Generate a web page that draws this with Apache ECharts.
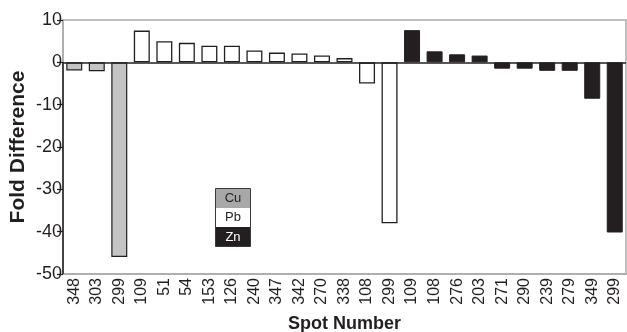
<!DOCTYPE html>
<html>
<head>
<meta charset="utf-8">
<script src="https://cdn.jsdelivr.net/npm/echarts@6/dist/echarts.min.js"></script>
<style>
html,body{margin:0;padding:0;background:#fff;}
#chart{width:627px;height:332px;}
</style>
</head>
<body>
<div id="chart"></div>
<script>
// Data
var cuSpots = ['348', '303', '299'];
var cuValues = [-1.9, -2.1, -46];
var pbSpots = ['109', '51', '54', '153', '126', '240', '347', '342', '270', '338', '108', '299'];
var pbValues = [7.5, 5.0, 4.6, 3.9, 3.9, 2.8, 2.3, 2.1, 1.6, 1.0, -5.0, -38];
var znSpots = ['109', '108', '276', '203', '271', '290', '239', '279', '349', '299'];
var znValues = [7.6, 2.6, 1.9, 1.6, -1.5, -1.5, -2.0, -2.0, -8.6, -40.2];
var yTicks = [10, 0, -10, -20, -30, -40, -50];
var legendNames = ['Cu', 'Pb', 'Zn'];

var categories = cuSpots.concat(pbSpots, znSpots);
function pad(before, vals, after) {
  var out = [];
  for (var i = 0; i < before; i++) out.push(null);
  out = out.concat(vals);
  for (var j = 0; j < after; j++) out.push(null);
  return out;
}
var n = categories.length;
var cuData = pad(0, cuValues, n - cuValues.length);
var pbData = pad(cuValues.length, pbValues, n - cuValues.length - pbValues.length);
var znData = pad(cuValues.length + pbValues.length, znValues, 0);

var ink = '#231f20';
var frame = '#aaaaaa';
var font = '"Liberation Sans", Arial, sans-serif';

var chart = echarts.init(document.getElementById('chart'), null, {renderer: 'canvas'});
var barBase = {
  type: 'bar',
  barWidth: 16,
  barGap: '-100%',
  animation: false
};
var legendGroup = {
  id: 'legendBox',
  type: 'group',
  left: 213,
  top: 186,
  children: [
    {type: 'rect', shape: {x: 0, y: 0, width: 35, height: 19.5}, style: {fill: '#a8a8a8'}},
    {type: 'rect', shape: {x: 0, y: 19.5, width: 35, height: 19}, style: {fill: '#ffffff'}},
    {type: 'rect', shape: {x: 0, y: 38.5, width: 35, height: 19.5}, style: {fill: ink}},
    {type: 'rect', shape: {x: 0, y: 0, width: 35, height: 58}, style: {fill: 'none', stroke: '#3a3a3a', lineWidth: 1}},
    {type: 'text', x: 17.5, y: 10, style: {text: legendNames[0], font: '13px ' + font, fill: ink, align: 'center', verticalAlign: 'middle'}},
    {type: 'text', x: 17.5, y: 29, style: {text: legendNames[1], font: '13px ' + font, fill: ink, align: 'center', verticalAlign: 'middle'}},
    {type: 'text', x: 17.5, y: 48.5, style: {text: legendNames[2], font: '13px ' + font, fill: '#ffffff', align: 'center', verticalAlign: 'middle'}}
  ]
};
chart.setOption({
  animation: false,
  backgroundColor: '#fff',
  textStyle: {fontFamily: font, color: ink},
  grid: {left: 63, right: 1, top: 20, bottom: 58, show: true, borderColor: frame, borderWidth: 1.5, containLabel: false, outerBoundsMode: 'none'},
  xAxis: {
    type: 'category',
    data: categories,
    axisLine: {onZero: false, lineStyle: {color: frame, width: 1.5}},
    axisTick: {show: false},
    axisLabel: {rotate: 90, fontSize: 16, color: ink, margin: 4, fontFamily: font, interval: 0},
    name: 'Spot Number',
    nameLocation: 'middle',
    nameGap: 41,
    nameMoveOverlap: false,
    nameTextStyle: {fontSize: 18, fontWeight: 'bold', color: ink, fontFamily: font}
  },
  yAxis: {
    type: 'value',
    min: yTicks[yTicks.length - 1],
    max: yTicks[0],
    interval: 10,
    axisLine: {show: true, lineStyle: {color: frame, width: 1.5}},
    axisTick: {show: true, length: 6, lineStyle: {color: ink, width: 1.2}},
    splitLine: {show: false},
    axisLabel: {fontSize: 18, color: ink, margin: 1, fontFamily: font},
    name: 'Fold Difference',
    nameLocation: 'middle',
    nameGap: 34,
    nameMoveOverlap: false,
    nameTextStyle: {fontSize: 21, fontWeight: 'bold', color: ink, fontFamily: font}
  },
  series: [
    Object.assign({}, barBase, {
      name: legendNames[0],
      data: cuData,
      itemStyle: {color: '#c4c4c4', borderColor: ink, borderWidth: 1.2},
      markLine: {
        silent: true,
        symbol: ['none', 'none'],
        label: {show: false},
        lineStyle: {color: ink, width: 1.5, type: 'solid'},
        data: [{yAxis: 0}],
        animation: false
      }
    }),
    Object.assign({}, barBase, {
      name: legendNames[1],
      data: pbData,
      itemStyle: {color: '#ffffff', borderColor: ink, borderWidth: 1.3}
    }),
    Object.assign({}, barBase, {
      name: legendNames[2],
      data: znData,
      itemStyle: {color: ink, borderColor: ink, borderWidth: 1}
    })
  ],
  graphic: [legendGroup]
});
// Black segment of the left axis below zero (axis decoration, positioned via the library's scale)
var gridLeft = chart.convertToPixel({xAxisIndex: 0}, 0) - (chart.convertToPixel({xAxisIndex: 0}, 1) - chart.convertToPixel({xAxisIndex: 0}, 0)) / 2;
var y0 = chart.convertToPixel({yAxisIndex: 0}, 0);
var yMin = chart.convertToPixel({yAxisIndex: 0}, yTicks[yTicks.length - 1]);
chart.setOption({
  graphic: [{
    id: 'axisSeg',
    type: 'line',
    shape: {x1: gridLeft, y1: y0, x2: gridLeft, y2: yMin},
    style: {stroke: ink, lineWidth: 1.5},
    z: 10
  }]
});
</script>
</body>
</html>
